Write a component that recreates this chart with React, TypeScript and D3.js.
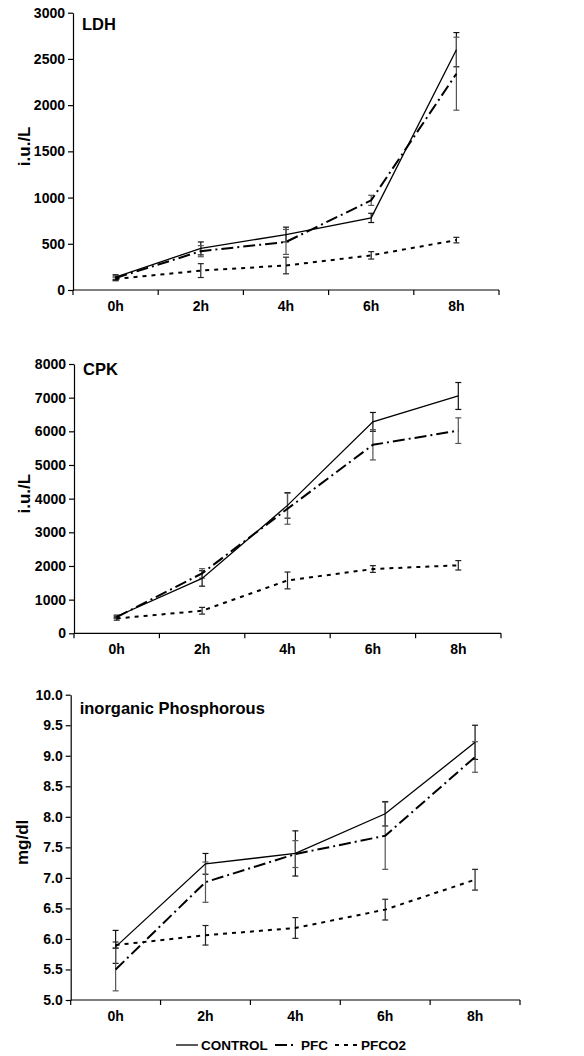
import React, { useEffect, useRef } from 'react';
import * as d3 from 'd3';

// time points on the x axis
const times = ['0h', '2h', '4h', '6h', '8h'];
const seriesNames = ['CONTROL', 'PFC', 'PFCO2'];

// LDH (i.u./L)
const ldhControl = [140, 450, 600, 780, 2600];
const ldhControlErr = [25, 70, 80, 50, 185];
const ldhPfc = [130, 420, 520, 970, 2340];
const ldhPfcErr = [25, 60, 135, 55, 395];
const ldhPfco2 = [120, 210, 265, 375, 540];
const ldhPfco2Err = [20, 75, 90, 40, 30];

// CPK (i.u./L)
const cpkControl = [500, 1630, 3800, 6280, 7050];
const cpkControlErr = [40, 230, 380, 280, 400];
const cpkPfc = [480, 1780, 3700, 5600, 6020];
const cpkPfcErr = [40, 140, 460, 450, 380];
const cpkPfco2 = [440, 670, 1570, 1910, 2020];
const cpkPfco2Err = [50, 100, 250, 100, 140];

// inorganic phosphorous (mg/dl)
const phControl = [5.87, 7.23, 7.40, 8.05, 9.22];
const phControlErr = [0.27, 0.17, 0.37, 0.2, 0.28];
const phPfc = [5.5, 6.93, 7.39, 7.69, 8.98];
const phPfcErr = [0.35, 0.33, 0.22, 0.55, 0.25];
const phPfco2 = [5.9, 6.06, 6.18, 6.48, 6.97];
const phPfco2Err = [0.05, 0.16, 0.17, 0.17, 0.17];

const ldhTicks = [0, 500, 1000, 1500, 2000, 2500, 3000];
const cpkTicks = [0, 1000, 2000, 3000, 4000, 5000, 6000, 7000, 8000];
const phTicks = [5, 5.5, 6, 6.5, 7, 7.5, 8, 8.5, 9, 9.5, 10];

const W = 584;
const H = 1056;
const FONT = '"Liberation Sans", Arial, sans-serif';

// line styles per series
const styles = [
  { dash: null, width: 1.3, errColor: '#111' },
  { dash: '12,4,2,4', width: 2, errColor: '#555' },
  { dash: '4,5', width: 2, errColor: '#222' },
];

const panels = [
  {
    title: 'LDH', unit: 'i.u./L', ticks: ldhTicks, fmt: d3.format('d'),
    values: [ldhControl, ldhPfc, ldhPfco2], errs: [ldhControlErr, ldhPfcErr, ldhPfco2Err],
    left: 73, right: 499, top: 12.7, bottom: 290, titleY: 30, labelX: 24,
  },
  {
    title: 'CPK', unit: 'i.u./L', ticks: cpkTicks, fmt: d3.format('d'),
    values: [cpkControl, cpkPfc, cpkPfco2], errs: [cpkControlErr, cpkPfcErr, cpkPfco2Err],
    left: 74, right: 501, top: 364, bottom: 633.3, titleY: 375, labelX: 24,
  },
  {
    title: 'inorganic Phosphorous', unit: 'mg/dl', ticks: phTicks, fmt: d3.format('.1f'),
    values: [phControl, phPfc, phPfco2], errs: [phControlErr, phPfcErr, phPfco2Err],
    left: 70.7, right: 520, top: 694.7, bottom: 1000, titleY: 714, labelX: 22,
  },
];

const App = () => {
  const ref = useRef<SVGSVGElement>(null);

  useEffect(() => {
    const svg = d3.select(ref.current);
    svg.selectAll('*').remove();

    panels.forEach((p) => {
      const g = svg.append('g');
      const x = d3.scaleBand<string>().domain(times).range([p.left, p.right]).padding(0);
      const y = d3.scaleLinear()
        .domain([p.ticks[0], p.ticks[p.ticks.length - 1]])
        .range([p.bottom, p.top]);
      const cx = (t: string) => (x(t) as number) + x.bandwidth() / 2;

      // y axis
      const yAxis = g.append('g')
        .attr('transform', `translate(${p.left},0)`)
        .call(d3.axisLeft(y).tickValues(p.ticks).tickFormat(p.fmt as any).tickSize(5).tickSizeOuter(0));
      yAxis.select('.domain').attr('stroke', '#000').attr('stroke-width', 1.2);
      yAxis.selectAll('.tick line').attr('stroke', '#000').attr('stroke-width', 1.2);
      yAxis.selectAll('.tick text')
        .attr('x', -8)
        .style('font-family', FONT).style('font-size', '14px').style('font-weight', 'bold')
        .attr('fill', '#000');

      // x axis with ticks at band edges
      const xAxis = g.append('g').attr('transform', `translate(0,${p.bottom})`);
      xAxis.append('line')
        .attr('x1', p.left).attr('x2', p.right)
        .attr('stroke', '#000').attr('stroke-width', 1.2);
      const edges = times.map((t) => x(t) as number).concat([p.right]);
      xAxis.selectAll('.xt').data(edges).enter().append('line')
        .attr('x1', (d) => d).attr('x2', (d) => d)
        .attr('y1', 0).attr('y2', 5)
        .attr('stroke', '#000').attr('stroke-width', 1.2);
      xAxis.selectAll('.xl').data(times).enter().append('text')
        .attr('x', (d) => cx(d)).attr('y', 21)
        .attr('text-anchor', 'middle')
        .style('font-family', FONT).style('font-size', '14px').style('font-weight', 'bold')
        .text((d) => d);

      // title
      g.append('text')
        .attr('x', p.left + 9).attr('y', p.titleY)
        .style('font-family', FONT).style('font-size', '16.5px').style('font-weight', 'bold')
        .text(p.title);

      // unit label
      g.append('text')
        .attr('transform', `translate(${p.labelX + 6},${(p.top + p.bottom) / 2 - 5}) rotate(-90)`)
        .attr('text-anchor', 'middle')
        .style('font-family', FONT).style('font-size', '17px').style('font-weight', 'bold')
        .text(p.unit);

      const line = d3.line<number>()
        .x((_, i) => cx(times[i]))
        .y((d) => y(d));

      // error bars
      p.values.forEach((vals, s) => {
        const errs = p.errs[s];
        const eg = g.append('g');
        vals.forEach((v, i) => {
          const xx = cx(times[i]);
          const y1 = y(v + errs[i]);
          const y2 = y(v - errs[i]);
          eg.append('line').attr('x1', xx).attr('x2', xx).attr('y1', y1).attr('y2', y2)
            .attr('stroke', styles[s].errColor).attr('stroke-width', 1.2);
          [y1, y2].forEach((yy) => {
            eg.append('line').attr('x1', xx - 3).attr('x2', xx + 3).attr('y1', yy).attr('y2', yy)
              .attr('stroke', styles[s].errColor).attr('stroke-width', 1.2);
          });
        });
      });

      // series lines
      p.values.forEach((vals, s) => {
        g.append('path')
          .datum(vals)
          .attr('d', line)
          .attr('fill', 'none')
          .attr('stroke', '#000')
          .attr('stroke-width', styles[s].width)
          .attr('stroke-dasharray', styles[s].dash);
      });
    });

    // legend
    const legend = svg.append('g').attr('transform', 'translate(0,1045)');
    const legendX = [176, 275, 335];
    const textX = [201, 301, 361];
    seriesNames.forEach((name, s) => {
      legend.append('line')
        .attr('x1', legendX[s]).attr('x2', legendX[s] + 22)
        .attr('y1', 0).attr('y2', 0)
        .attr('stroke', '#000')
        .attr('stroke-width', styles[s].width)
        .attr('stroke-dasharray', styles[s].dash);
      legend.append('text')
        .attr('x', textX[s]).attr('y', 5)
        .style('font-family', FONT).style('font-size', '13.5px').style('font-weight', 'bold')
        .text(name);
    });
  }, []);

  return (
    <svg ref={ref} width={W} height={H}
      style={{ position: 'absolute', left: 0, top: 0, background: '#fff' }} />
  );
};

export default App;
